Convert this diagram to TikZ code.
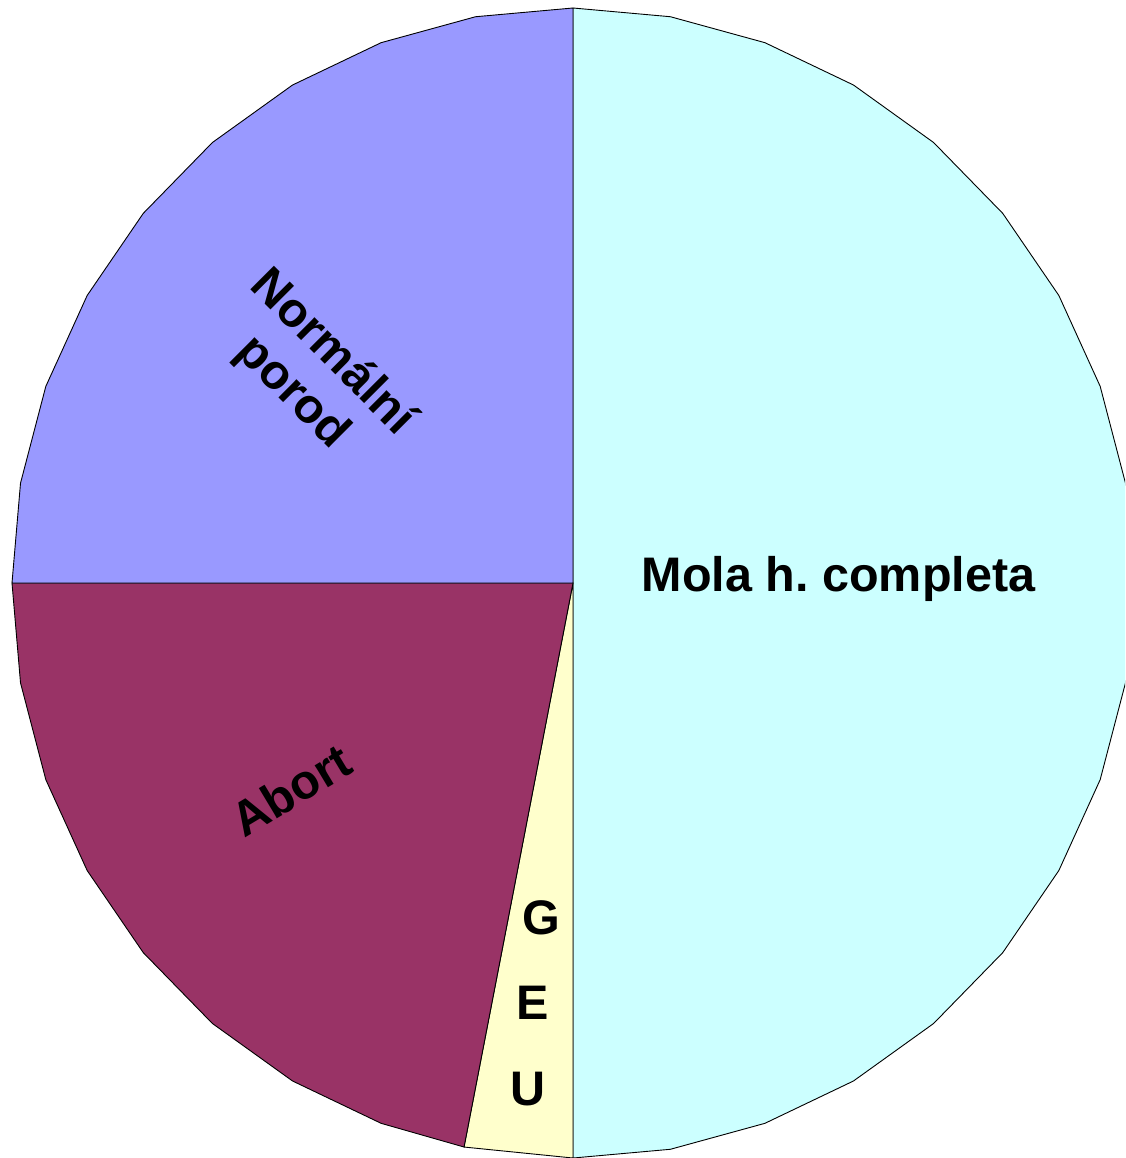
\documentclass[tikz,border=0pt]{standalone}
\usepackage{fontspec}
\setmainfont{Liberation Sans}
\definecolor{mola}{HTML}{CCFFFF}
\definecolor{normal}{HTML}{9999FF}
\definecolor{abort}{HTML}{993366}
\definecolor{geu}{HTML}{FFFFCC}
\frenchspacing
\begin{document}
\begin{tikzpicture}[x=1pt,y=-1pt,
  slice/.style={draw=black,line width=0.9pt,line join=miter},
  lbl/.style={font=\fontsize{48.5}{56}\selectfont\bfseries,inner sep=0pt,text=black}]
\useasboundingbox (0,0) rectangle (1125,1158);
\coordinate (c) at (573,583);
\def\rx{561}\def\ry{575}
\coordinate (b) at ({573+\rx*sin(191.2)},{583-\ry*cos(191.2)});
\begin{scope}
\clip (0,0) rectangle (1125,1158);
\fill[mola] (c) -- plot[domain=0:180,samples=19] ({573+\rx*sin(\x)},{583-\ry*cos(\x)}) -- cycle;
\draw[slice] (c) -- plot[domain=0:180,samples=19] ({573+\rx*sin(\x)},{583-\ry*cos(\x)}) -- cycle;
\draw[slice,fill=geu] (c) -- (573,1158) -- (b) -- cycle;
\draw[slice,fill=abort] (c) -- (b) -- plot[domain=200:270,samples=8] ({573+\rx*sin(\x)},{583-\ry*cos(\x)}) -- cycle;
\draw[slice,fill=normal] (c) -- plot[domain=270:360,samples=10] ({573+\rx*sin(\x)},{583-\ry*cos(\x)}) -- cycle;
\end{scope}
\node[lbl,anchor=base] (mola) at (838.5,591) {Mola h.\ completa};
\node[lbl,align=center,rotate=-45] (norm) at (312,373) {Normální\\porod};
\node[lbl,rotate=31] (ab) at (291,790) {Abort};
\node[lbl] (g) at (541,918) {G};
\node[lbl] (e) at (533,1003) {E};
\node[lbl] (u) at (528,1089) {U};
\end{tikzpicture}
\end{document}
